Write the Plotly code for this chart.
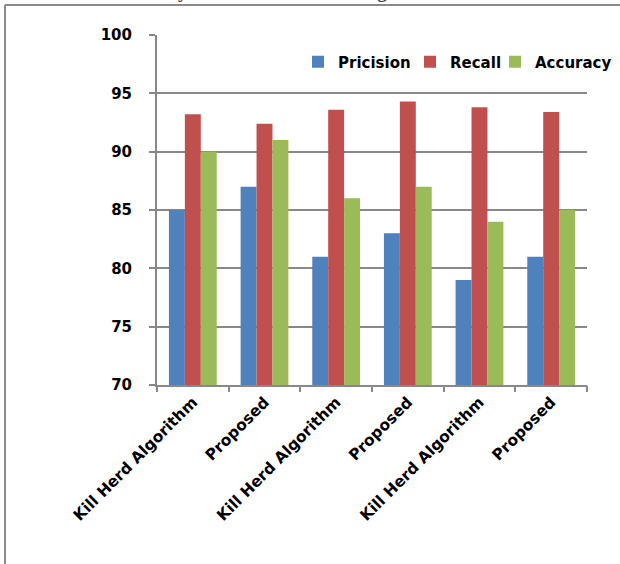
import plotly.graph_objects as go

# Methods compared (each pair repeated for three test runs)
methods = ["Kill Herd Algorithm", "Proposed", "Kill Herd Algorithm",
           "Proposed", "Kill Herd Algorithm", "Proposed"]
precision = [85, 87, 81, 83, 79, 81]
recall = [93.2, 92.4, 93.6, 94.3, 93.8, 93.4]
accuracy = [90, 91, 86, 87, 84, 85]
y_ticks = [70, 75, 80, 85, 90, 95, 100]

positions = list(range(len(methods)))

BLUE, RED, GREEN = "#4F81BD", "#C0504D", "#9BBB59"
GRID = "#888888"
FONT = dict(family="DejaVu Sans", size=15, color="black", weight=700)
XFONT = dict(family="DejaVu Sans", size=15.5, color="black", weight=700)

fig = go.Figure()
# legendwidth keeps the three legend entries compact on one row
for name, vals, col, lw in [("Pricision", precision, BLUE, 67),
                            ("Recall", recall, RED, 40),
                            ("Accuracy", accuracy, GREEN, 82)]:
    fig.add_trace(go.Bar(x=positions, y=vals, name=name, legendwidth=lw,
                         marker=dict(color=col, line=dict(width=0))))

# second x-axis only carries tick marks at category boundaries
fig.add_trace(go.Scatter(x=[-0.5, 5.5], y=[None, None], xaxis="x2",
                         showlegend=False, hoverinfo="skip"))

W, H = 620, 564
L, R, T, B = 157, 33, 35, 179
pw, ph = W - L - R, H - T - B


def px_x(p):
    return (p - L) / pw


def px_y(p):
    return (H - B - p) / ph


fig.update_layout(
    width=W, height=H,
    margin=dict(l=L, r=R, t=T, b=B, pad=0, autoexpand=False),
    paper_bgcolor="white", plot_bgcolor="white",
    barmode="group", bargap=0.333, bargroupgap=0,
    font=FONT,
    showlegend=True,
    legend=dict(orientation="h", x=px_x(298), xanchor="left",
                y=px_y(62), yanchor="middle", font=FONT,
                bgcolor="rgba(0,0,0,0)", itemwidth=30,
                tracegroupgap=0),
    xaxis=dict(range=[-0.5, 5.5], tickmode="array", tickvals=positions,
               ticktext=methods, tickangle=-45, ticks="",
               showline=True, linecolor=GRID, linewidth=2,
               showgrid=False, zeroline=False, tickfont=XFONT),
    xaxis2=dict(range=[-0.5, 5.5], overlaying="x", side="bottom",
                tickmode="array", tickvals=[i - 0.5 for i in range(7)],
                ticks="outside", ticklen=6, tickwidth=2, tickcolor=GRID,
                showticklabels=False, showgrid=False, zeroline=False,
                showline=False),
    yaxis=dict(range=[70, 100], tickmode="array", tickvals=y_ticks,
               ticks="outside", ticklen=6, tickwidth=2, tickcolor=GRID,
               showline=True, linecolor=GRID, linewidth=2,
               showgrid=True, gridcolor=GRID, gridwidth=2,
               zeroline=False, tickfont=FONT, ticklabelstandoff=14),
    shapes=[
        dict(type="line", xref="paper", yref="paper",
             x0=px_x(5), x1=px_x(625), y0=px_y(5), y1=px_y(5),
             line=dict(color="#8a8a8a", width=2)),
        dict(type="line", xref="paper", yref="paper",
             x0=px_x(5), x1=px_x(5), y0=px_y(5), y1=px_y(570),
             line=dict(color="#8a8a8a", width=2)),
    ],
    annotations=[
        dict(text="always better than the existing method.",
             xref="paper", yref="paper", x=px_x(138), xanchor="left",
             y=px_y(4), yanchor="bottom", showarrow=False,
             font=dict(family="Liberation Serif", size=19, color="#444444")),
    ],
)

fig.write_html("out.html")
